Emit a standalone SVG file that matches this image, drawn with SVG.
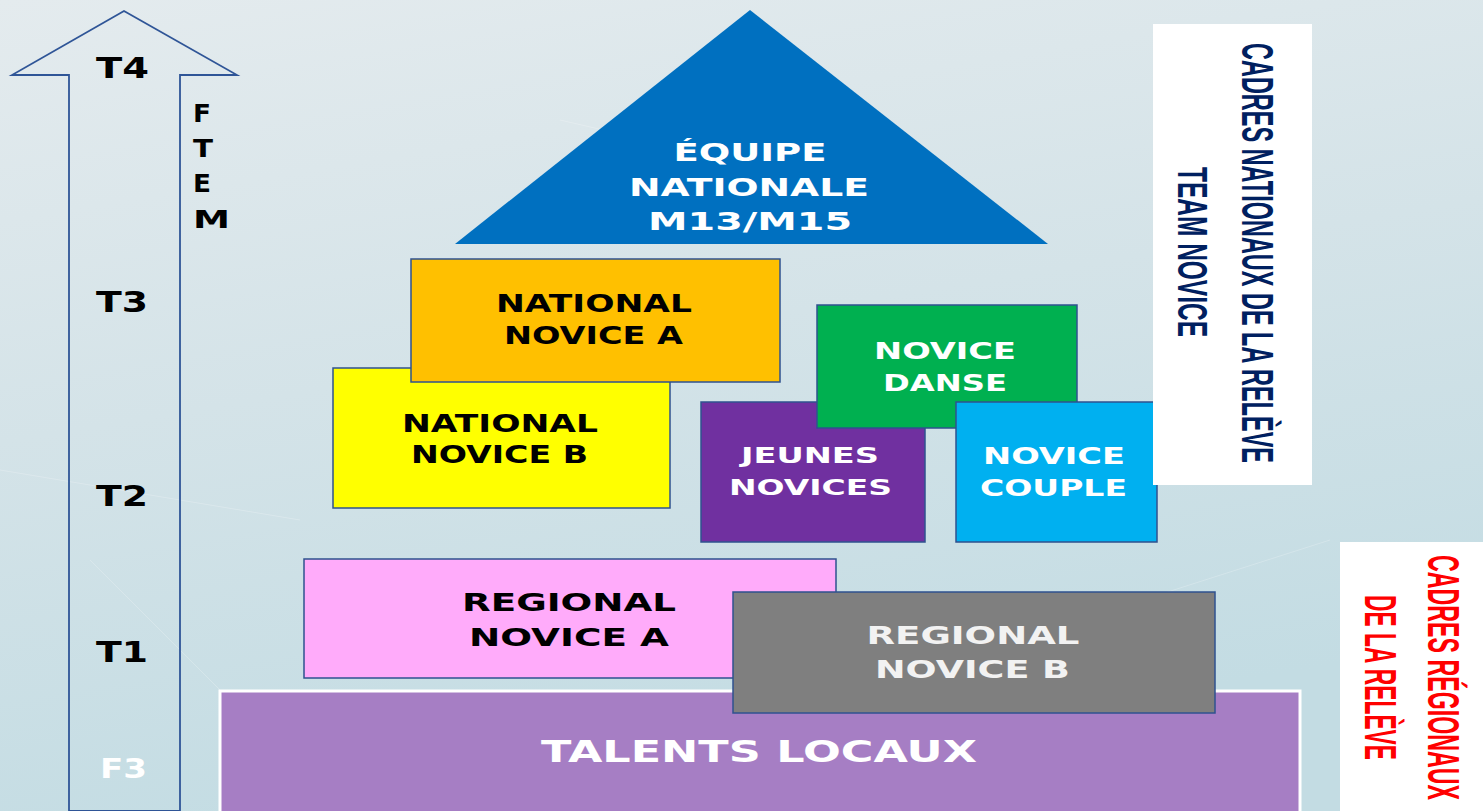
<svg xmlns="http://www.w3.org/2000/svg" width="1483" height="811" viewBox="0 0 1483 811">
<defs>
<linearGradient id="ice" x1="0" y1="0" x2="0.3" y2="1">
<stop offset="0" stop-color="#E4EBEE"/>
<stop offset="0.5" stop-color="#D4E3E8"/>
<stop offset="1" stop-color="#C3DCE3"/>
</linearGradient>
<style>
.box{stroke:#2F528F;stroke-width:1.5}
.lbl{font-family:"DejaVu Sans","Open Sans",sans-serif;font-weight:bold;text-anchor:middle}
.lvl{font-family:"DejaVu Sans","Open Sans",sans-serif;font-weight:bold;font-size:29px;fill:#000;text-anchor:middle}
.side{font-family:"Liberation Sans Narrow","Liberation Sans",Arial,sans-serif;font-weight:bold;font-size:23px}
.w{fill:#FFFFFF}
.k{fill:#000000}
</style>
</defs>
<rect x="0" y="0" width="1483" height="811" fill="url(#ice)"/>
<g opacity="0.22" stroke="#FFFFFF" stroke-width="1" fill="none">
<path d="M0 470 L300 520"/>
<path d="M560 120 L820 180"/>
<path d="M1080 620 L1330 540"/>
<path d="M250 720 L90 560"/>
</g>

<g id="connectors">
<polygon points="69,811 69,75 12,75 124,11 237,75 180,75 180,811" fill="none" stroke="#2F5597" stroke-width="1.8"/>
</g>

<g id="levels">
<text class="lvl" x="122.5" y="78" textLength="53" lengthAdjust="spacingAndGlyphs">T4</text>
<text class="lvl" x="122" y="312" textLength="52" lengthAdjust="spacingAndGlyphs">T3</text>
<text class="lvl" x="122" y="506" textLength="52" lengthAdjust="spacingAndGlyphs">T2</text>
<text class="lvl" x="122" y="662" textLength="52" lengthAdjust="spacingAndGlyphs">T1</text>
<text class="lvl" x="123.5" y="778" textLength="47" lengthAdjust="spacingAndGlyphs" style="fill:#FFFFFF;font-size:27px">F3</text>
</g>

<g id="ftem" font-family="DejaVu Sans, Open Sans, sans-serif" font-weight="bold" font-size="24" fill="#000">
<text x="193" y="122" textLength="18" lengthAdjust="spacingAndGlyphs">F</text>
<text x="193" y="157" textLength="20" lengthAdjust="spacingAndGlyphs">T</text>
<text x="193" y="192" textLength="18" lengthAdjust="spacingAndGlyphs">E</text>
<text x="193" y="228" textLength="37" lengthAdjust="spacingAndGlyphs">M</text>
</g>

<g id="equipe-nationale">
<polygon points="750,10 455,244 1048,244" fill="#0070C0"/>
<text class="lbl w" font-size="24" x="750" y="161" textLength="153" lengthAdjust="spacingAndGlyphs">ÉQUIPE</text>
<text class="lbl w" font-size="24" x="749" y="196" textLength="240" lengthAdjust="spacingAndGlyphs">NATIONALE</text>
<text class="lbl w" font-size="24" x="750" y="230" textLength="204" lengthAdjust="spacingAndGlyphs">M13/M15</text>
</g>

<g id="national-novice-b">
<rect class="box" x="333" y="368" width="337" height="140" fill="#FFFF00"/>
<text class="lbl k" font-size="24" x="500" y="432" textLength="196" lengthAdjust="spacingAndGlyphs">NATIONAL</text>
<text class="lbl k" font-size="24" x="499.5" y="463" textLength="177" lengthAdjust="spacingAndGlyphs">NOVICE B</text>
</g>

<g id="national-novice-a">
<rect class="box" x="411" y="259" width="369" height="123" fill="#FFC000"/>
<text class="lbl k" font-size="24" x="594" y="312" textLength="196" lengthAdjust="spacingAndGlyphs">NATIONAL</text>
<text class="lbl k" font-size="24" x="593.5" y="344" textLength="179" lengthAdjust="spacingAndGlyphs">NOVICE A</text>
</g>

<g id="jeunes-novices">
<rect class="box" x="701" y="402" width="224" height="140" fill="#7030A0"/>
<text class="lbl w" font-size="22" x="810" y="463" textLength="138" lengthAdjust="spacingAndGlyphs">JEUNES</text>
<text class="lbl w" font-size="22" x="810.5" y="495" textLength="163" lengthAdjust="spacingAndGlyphs">NOVICES</text>
</g>

<g id="novice-danse">
<rect class="box" x="817" y="305" width="260" height="123" fill="#00B050"/>
<text class="lbl w" font-size="23" x="945" y="359" textLength="142" lengthAdjust="spacingAndGlyphs">NOVICE</text>
<text class="lbl w" font-size="23" x="945" y="391" textLength="124" lengthAdjust="spacingAndGlyphs">DANSE</text>
</g>

<g id="novice-couple">
<rect class="box" x="956" y="402" width="201" height="140" fill="#00B0F0"/>
<text class="lbl w" font-size="23" x="1054" y="464" textLength="142" lengthAdjust="spacingAndGlyphs">NOVICE</text>
<text class="lbl w" font-size="23" x="1053.5" y="496" textLength="147" lengthAdjust="spacingAndGlyphs">COUPLE</text>
</g>

<g id="talents-locaux">
<rect x="220" y="691" width="1080" height="125" fill="#A67EC4" stroke="#FFFFFF" stroke-width="3"/>
<text class="lbl w" font-size="30" x="759" y="762" textLength="436" lengthAdjust="spacingAndGlyphs">TALENTS LOCAUX</text>
</g>

<g id="regional-novice-a">
<rect class="box" x="304" y="559" width="532" height="119" fill="#FFABFA"/>
<text class="lbl k" font-size="25" x="569" y="611" textLength="214" lengthAdjust="spacingAndGlyphs">REGIONAL</text>
<text class="lbl k" font-size="25" x="569" y="646" textLength="200" lengthAdjust="spacingAndGlyphs">NOVICE A</text>
</g>

<g id="regional-novice-b">
<rect class="box" x="733" y="592" width="482" height="121" fill="#7F7F7F"/>
<text class="lbl" fill="#F2F2F2" font-size="25" x="973" y="644" textLength="213" lengthAdjust="spacingAndGlyphs">REGIONAL</text>
<text class="lbl" fill="#F2F2F2" font-size="25" x="972.5" y="678" textLength="195" lengthAdjust="spacingAndGlyphs">NOVICE B</text>
</g>

<g id="cadres-nationaux">
<rect x="1153" y="24" width="159" height="461" fill="#FFFFFF"/>
<text class="side" fill="#002060" transform="translate(1242,43) rotate(90) scale(1,1.9)" x="0" y="0" textLength="420" lengthAdjust="spacingAndGlyphs">CADRES NATIONAUX DE LA RELÈVE</text>
<text class="side" fill="#002060" transform="translate(1178,167) rotate(90) scale(1,1.85)" x="0" y="0" textLength="170" lengthAdjust="spacingAndGlyphs">TEAM NOVICE</text>
</g>

<g id="cadres-regionaux">
<rect x="1340" y="542" width="143" height="269" fill="#FFFFFF"/>
<text class="side" fill="#FF0000" transform="translate(1428,555) rotate(90) scale(1,1.94)" x="0" y="0" textLength="245" lengthAdjust="spacingAndGlyphs">CADRES RÉGIONAUX</text>
<text class="side" fill="#FF0000" transform="translate(1365,595) rotate(90) scale(1,1.94)" x="0" y="0" textLength="165" lengthAdjust="spacingAndGlyphs">DE LA RELÈVE</text>
</g>
</svg>
